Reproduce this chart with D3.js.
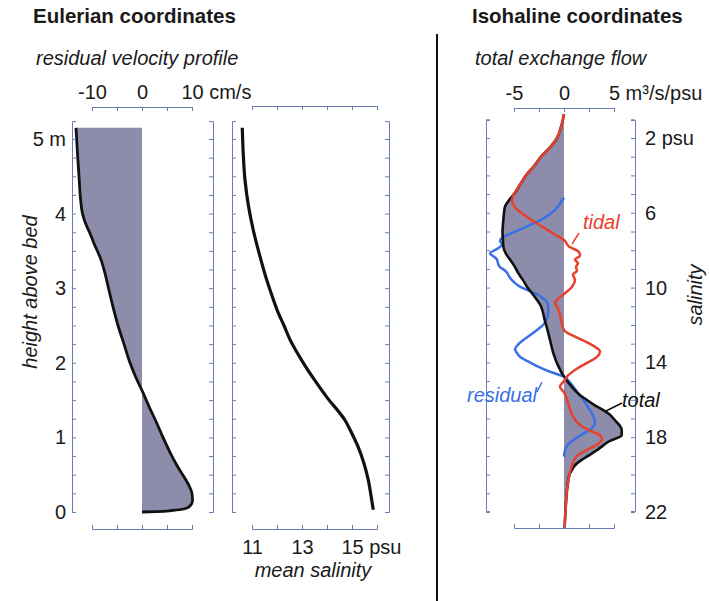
<!DOCTYPE html>
<html>
<head>
<meta charset="utf-8">
<script src="https://cdn.jsdelivr.net/npm/d3@7"></script>
<style>
  body { margin: 0; background: #fff; }
  svg { display: block; font-family: "Liberation Sans", Arial, Helvetica, sans-serif; }
</style>
</head>
<body>
<div id="chart"></div>
<script>
// Eulerian residual velocity profile (height above bed in m, velocity in cm/s)
const velHeight = [0, 0.005, 0.02, 0.04, 0.08, 0.15, 0.25, 0.34, 0.45, 0.6, 0.8, 1.0, 1.2, 1.4, 1.6, 1.8, 2.0,
  2.25, 2.5, 2.75, 3.0, 3.2, 3.4, 3.6, 3.75, 3.87, 4.0, 4.2, 4.5, 4.8, 5.15];
const velocity = [0, 3.0, 6.0, 8.4, 9.6, 10.1, 10.0, 9.5, 8.6, 7.2, 5.6, 4.2, 2.9, 1.5, 0.2, -1.2, -2.4,
  -3.6, -4.8, -5.8, -6.7, -7.4, -8.3, -9.6, -10.5, -11.3, -11.9, -12.3, -12.6, -12.9, -13.2];

// mean salinity profile (height in m, salinity in psu)
const salHeight = [0.03, 0.2, 0.43, 0.65, 0.87, 1.05, 1.23, 1.54, 1.77, 2.0, 2.31, 2.5, 2.67, 2.9, 3.11,
  3.45, 3.78, 4.1, 4.45, 4.8, 5.15];
const meanSalinity = [15.85, 15.77, 15.65, 15.48, 15.25, 15.0, 14.72, 13.99, 13.5, 13.05, 12.52, 12.28, 12.05,
  11.8, 11.59, 11.3, 11.05, 10.86, 10.72, 10.65, 10.61];

// isohaline exchange flow (salinity class in psu, flux in m3/s/psu)
const tidalSal = [0.72, 1.0, 1.5, 2.0, 2.5, 3.0, 3.5, 4.0, 4.5, 5.0, 5.3, 5.7, 6.0, 6.4, 6.9, 7.2, 7.45, 7.8,
  8.1, 8.3, 8.5, 8.7, 8.9, 9.1, 9.3, 9.6, 9.95, 10.3, 10.6, 10.8, 11.1, 11.7, 12.27, 12.6, 12.9, 13.2, 13.4,
  13.7, 14.0, 14.3, 14.7, 15.0, 15.3, 15.6, 16.0, 16.5, 16.9, 17.3, 17.6, 17.9, 18.1, 18.4, 18.7, 19.0, 19.5,
  20.0, 20.6, 21.5, 22.4, 22.9];
const tidalFlux = [0, -0.1, -0.35, -0.7, -1.4, -2.3, -3.0, -3.8, -4.4, -5.0, -5.2, -4.9, -4.3, -3.2, -1.7, -0.8,
  0, 0.5, 1.5, 1.6, 1.1, 1.4, 1.2, 1.3, 0.9, 1.1, 0.8, 0.1, -0.6, -0.9, -0.6, -0.3, 0, 1.0, 2.2, 3.2, 3.6,
  3.3, 2.4, 1.4, 0.4, 0, -0.4, 0, 0.3, 0.6, 0.9, 1.5, 2.4, 3.6, 3.8, 3.3, 2.2, 1.3, 0.8,
  0.55, 0.35, 0.2, 0.1, 0.05];

const totalSal = [0.72, 1.0, 1.5, 2.0, 2.5, 3.0, 3.5, 4.0, 4.5, 5.0, 5.2, 5.67, 6.0, 6.4, 7.0, 7.5, 7.8, 8.2,
  8.5, 8.9, 9.2, 9.6, 9.95, 10.3, 10.66, 11.0, 11.4, 11.8, 12.1, 12.8, 13.5, 14.2, 14.76, 15.3, 15.7, 16.0,
  16.3, 16.55, 16.8, 17.1, 17.4, 17.6, 17.9, 18.05, 18.2, 18.45, 18.7, 19.0, 19.2, 19.5, 19.75, 20.0, 20.6,
  21.5, 22.4, 22.9];
const totalFlux = [0, -0.1, -0.35, -0.7, -1.4, -2.3, -3.0, -3.8, -4.4, -5.0, -5.3, -5.9, -6.0, -6.07, -6.15,
  -6.1, -6.07, -5.8, -5.4, -4.9, -4.6, -4.1, -3.7, -3.2, -2.7, -2.3, -2.07, -1.9, -1.73, -1.4, -1.07, -0.57,
  0, 0.77, 1.5, 2.27, 3.1, 3.93, 4.6, 5.1, 5.6, 5.77, 5.77, 5.3, 4.6, 3.9, 3.27, 2.4, 1.8, 1.1, 0.8, 0.55,
  0.35, 0.2, 0.1, 0.05];

const residSal = [5.2, 5.5, 5.85, 6.1, 6.4, 6.7, 6.9, 7.1, 7.3, 7.5, 7.7, 7.9, 8.17, 8.35, 8.5, 8.7, 8.9, 9.05,
  9.2, 9.4, 9.6, 9.8, 9.95, 10.15, 10.3, 10.5, 10.75, 11.1, 11.4, 11.7, 12.0, 12.27, 12.55, 12.8, 13.05, 13.3,
  13.5, 13.7, 13.95, 14.2, 14.5, 14.76, 15.0, 15.3, 15.7, 16.0, 16.4, 16.7, 17.0, 17.25, 17.5, 17.7, 17.95,
  18.15, 18.4, 18.7, 19.04];
const residFlux = [0, -0.4, -0.9, -1.5, -2.4, -3.6, -4.4, -5.3, -6.07, -6.4, -6.2, -6.6, -7.4, -7.0, -6.7, -6.6,
  -6.4, -6.0, -5.7, -5.5, -5.2, -4.8, -4.4, -3.6, -2.9, -2.3, -1.73, -1.57, -1.6, -1.73, -2.1, -2.7, -3.4, -4.07,
  -4.6, -4.9, -4.7, -4.4, -3.6, -2.7, -1.4, 0, 0.5, 0.93, 1.5, 1.93, 2.4, 2.77, 3.0, 3.1, 2.8, 2.27, 1.5,
  0.93, 0.4, 0.1, 0];

// tick values
const heightTicks = [0, 1, 2, 3, 4, 5];
const velTicks = [-10, -5, 0, 5, 10];
const velLabels = [-10, 0, 10];
const meanSalTicks = [11, 12, 13, 14, 15, 16];
const meanSalLabels = [11, 13, 15];
const fluxTicks = [-5, -2.5, 0, 2.5, 5];
const fluxLabels = [-5, 0, 5];
const salClassLabels = [2, 6, 10, 14, 18, 22];

const width = 709, height = 601;
const colours = {
  axis: "#6a7cb4",
  fill: "#8d8caa",
  text: "#1a1a1a",
  tidal: "#e8402c",
  residual: "#3a70e4",
  line: "#111"
};

const svg = d3.select("#chart").append("svg")
  .attr("width", width).attr("height", height);

// scales
const zScale = d3.scaleLinear().domain([0, 5]).range([512, 139]);
const uScale = d3.scaleLinear().domain([-10, 10]).range([92, 192]);
const mScale = d3.scaleLinear().domain([11, 16]).range([252, 377]);
const sScale = d3.scaleLinear().domain([2, 22]).range([138, 512]);
const qScale = d3.scaleLinear().domain([-5, 5]).range([514, 614]);

const zFrame = zScale.copy().domain([0, 5.24]).range([zScale(0), zScale(5.24)]);
const sFrame = sScale.copy().domain([1.04, 21.95]).range([sScale(1.04), sScale(21.95)]);

function styleAxis(g, size) {
  g.attr("color", colours.axis).attr("font-family", null).attr("font-size", null);
  g.selectAll("text").attr("fill", colours.text).style("font-size", (size || 20) + "px");
  g.selectAll("path, line").attr("stroke-width", 1);
}

// put the unit after a tick label, keeping the number centred on the tick
function unitLabel(g, value, unit) {
  g.selectAll(".tick").filter(d => d === value).select("text").each(function () {
    const t = d3.select(this).text(value);
    const w = this.getComputedTextLength();
    t.attr("text-anchor", "start").attr("x", -w / 2).text(value + " " + unit);
  });
}

function topAxis(scale, ticks, labels, y, unit) {
  const g = svg.append("g")
    .attr("transform", `translate(0,${y})`)
    .call(d3.axisTop(scale).tickValues(ticks).tickSizeInner(-4).tickSizeOuter(-4).tickPadding(8)
      .tickFormat(d => labels.includes(d) ? d : ""));
  styleAxis(g);
  if (unit) unitLabel(g, labels[labels.length - 1], unit);
  return g;
}

function bottomAxis(scale, ticks, labels, y, unit) {
  const g = svg.append("g")
    .attr("transform", `translate(0,${y})`)
    .call(d3.axisBottom(scale).tickValues(ticks).tickSizeInner(-4).tickSizeOuter(-4).tickPadding(11)
      .tickFormat(d => labels.includes(d) ? d : ""));
  styleAxis(g);
  if (unit) unitLabel(g, labels[labels.length - 1], unit);
  return g;
}

function frame(scale, xLeft, xRight, ticks) {
  const l = svg.append("g").attr("transform", `translate(${xLeft},0)`)
    .call(d3.axisLeft(scale).tickValues(ticks).tickSizeInner(-4).tickSizeOuter(-4).tickFormat(""));
  const r = svg.append("g").attr("transform", `translate(${xRight},0)`)
    .call(d3.axisRight(scale).tickValues(ticks).tickSizeInner(-4).tickSizeOuter(-4).tickFormat(""));
  styleAxis(l); styleAxis(r);
}

// ---------- panel 1: residual velocity ----------
const velData = velHeight.map((z, i) => ({ z: z, u: velocity[i] }));

svg.append("path")
  .datum(velData)
  .attr("fill", colours.fill)
  .attr("d", d3.area()
    .y(d => zScale(d.z))
    .x0(uScale(0))
    .x1(d => uScale(d.u))
    .curve(d3.curveMonotoneY));

svg.append("path")
  .datum(velData)
  .attr("fill", "none")
  .attr("stroke", colours.line)
  .attr("stroke-width", 2.8)
  .attr("d", d3.line().y(d => zScale(d.z)).x(d => uScale(d.u)).curve(d3.curveMonotoneY));

frame(zFrame, 72, 213, d3.range(0, 5.01, 0.25));
topAxis(uScale, velTicks, velLabels, 107, "cm/s");
bottomAxis(uScale, velTicks, [], 529);

// height labels on the left
const hAxis = svg.append("g").attr("transform", "translate(72,0)")
  .call(d3.axisLeft(zScale).tickValues(heightTicks).tickSize(0).tickPadding(6)
    .tickFormat(d => d === 5 ? "5 m" : d));
hAxis.select(".domain").remove();
styleAxis(hAxis);

// ---------- panel 2: mean salinity ----------
const salData = salHeight.map((z, i) => ({ z: z, s: meanSalinity[i] }));

svg.append("path")
  .datum(salData)
  .attr("fill", "none")
  .attr("stroke", colours.line)
  .attr("stroke-width", 3.2)
  .attr("d", d3.line().y(d => zScale(d.z)).x(d => mScale(d.s)).curve(d3.curveMonotoneY));

frame(zFrame, 232, 389, d3.range(0, 5.01, 0.25));
topAxis(mScale, meanSalTicks, [], 106, "");
bottomAxis(mScale, meanSalTicks, meanSalLabels, 529, "psu");

// ---------- panel 3: isohaline exchange flow ----------
const tidalData = tidalSal.map((s, i) => ({ s: s, q: tidalFlux[i] }));
const totalData = totalSal.map((s, i) => ({ s: s, q: totalFlux[i] }));
const residData = residSal.map((s, i) => ({ s: s, q: residFlux[i] }));

svg.append("path")
  .datum(totalData)
  .attr("fill", colours.fill)
  .attr("d", d3.area()
    .y(d => sScale(d.s))
    .x0(qScale(0))
    .x1(d => qScale(d.q))
    .curve(d3.curveMonotoneY));

const fluxLine = d3.line().y(d => sScale(d.s)).x(d => qScale(d.q)).curve(d3.curveMonotoneY);

svg.append("path").datum(residData)
  .attr("fill", "none").attr("stroke", colours.residual).attr("stroke-width", 2.5).attr("d", fluxLine);
svg.append("path").datum(totalData)
  .attr("fill", "none").attr("stroke", colours.line).attr("stroke-width", 2.6).attr("d", fluxLine);
svg.append("path").datum(tidalData)
  .attr("fill", "none").attr("stroke", colours.tidal).attr("stroke-width", 2.5).attr("d", fluxLine);

frame(sFrame, 486, 635, d3.range(1, 22.01, 1));
topAxis(qScale, fluxTicks, fluxLabels, 108, "m³/s/psu");
bottomAxis(qScale, fluxTicks, [], 528);

const sAxis = svg.append("g").attr("transform", "translate(635,0)")
  .call(d3.axisRight(sScale).tickValues(salClassLabels).tickSize(0).tickPadding(10)
    .tickFormat(d => d === 2 ? "2 psu" : d));
sAxis.select(".domain").remove();
styleAxis(sAxis);

// series labels with pointers
const labels = [
  { text: "tidal", x: 583, y: 229, colour: colours.tidal, p: [[572, 244], [579, 233]] },
  { text: "residual", x: 467, y: 402, colour: colours.residual, p: [[537, 392], [542, 382]] },
  { text: "total", x: 622, y: 407, colour: colours.line, p: [[606, 411], [622, 403]] }
];
labels.forEach(l => {
  svg.append("line")
    .attr("x1", l.p[0][0]).attr("y1", l.p[0][1]).attr("x2", l.p[1][0]).attr("y2", l.p[1][1])
    .attr("stroke", l.colour).attr("stroke-width", 1.4);
  svg.append("text")
    .attr("x", l.x).attr("y", l.y)
    .attr("fill", l.colour)
    .style("font-size", "20px").style("font-style", "italic")
    .text(l.text);
});

// ---------- titles and axis titles ----------
svg.append("text").attr("x", 33).attr("y", 23)
  .style("font-size", "20.5px").style("font-weight", "bold").attr("fill", colours.text)
  .text("Eulerian coordinates");
svg.append("text").attr("x", 472).attr("y", 23)
  .style("font-size", "20.5px").style("font-weight", "bold").attr("fill", colours.text)
  .text("Isohaline coordinates");

svg.append("text").attr("x", 36).attr("y", 65)
  .style("font-size", "20px").style("font-style", "italic").attr("fill", colours.text)
  .text("residual velocity profile");
svg.append("text").attr("x", 475).attr("y", 65)
  .style("font-size", "20px").style("font-style", "italic").attr("fill", colours.text)
  .text("total exchange flow");

svg.append("text").attr("x", 313).attr("y", 577)
  .style("font-size", "20px").style("font-style", "italic").style("text-anchor", "middle")
  .attr("fill", colours.text)
  .text("mean salinity");

svg.append("text")
  .attr("transform", "translate(37,292) rotate(-90)")
  .style("font-size", "20px").style("font-style", "italic").style("text-anchor", "middle")
  .attr("fill", colours.text)
  .text("height above bed");

svg.append("text")
  .attr("transform", "translate(702,295) rotate(-90)")
  .style("font-size", "20px").style("font-style", "italic").style("text-anchor", "middle")
  .attr("fill", colours.text)
  .text("salinity");

// divider
svg.append("line")
  .attr("x1", 437).attr("x2", 437).attr("y1", 34).attr("y2", height)
  .attr("stroke", "#111").attr("stroke-width", 2);
</script>
</body>
</html>
